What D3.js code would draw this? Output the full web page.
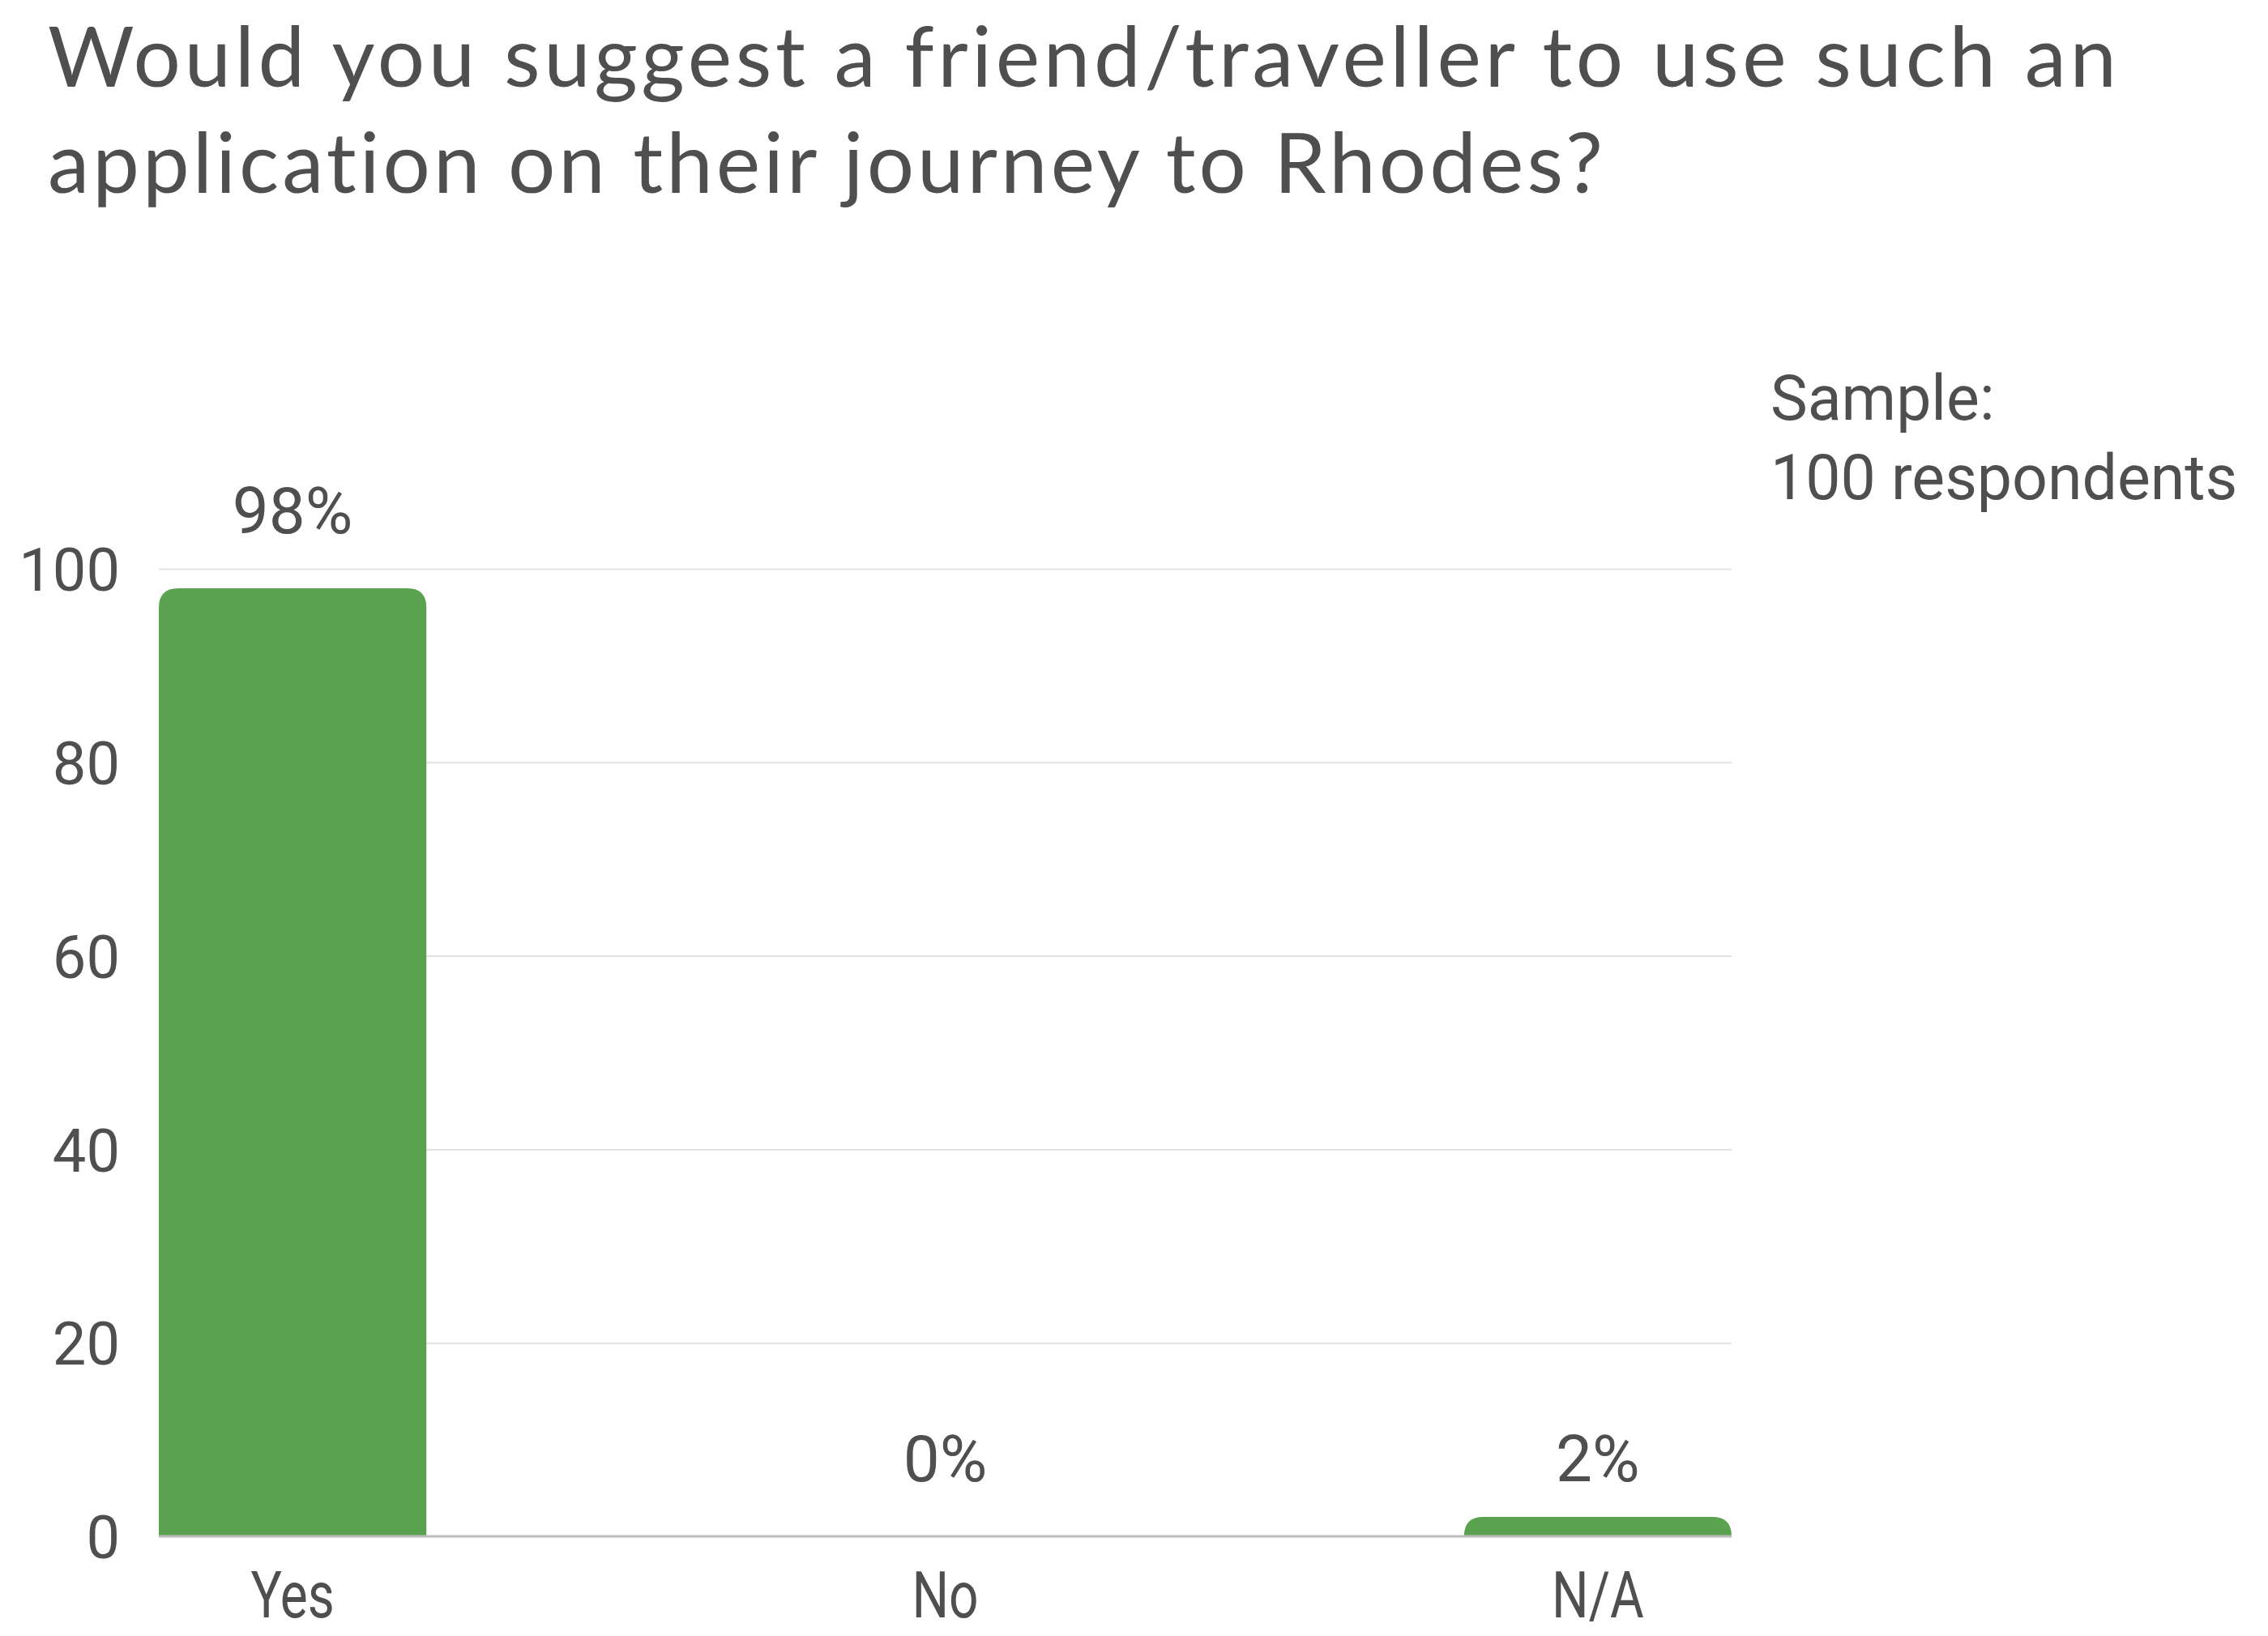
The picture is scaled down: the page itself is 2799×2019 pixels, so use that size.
<!DOCTYPE html>
<html>
<head>
<meta charset="utf-8">
<script src="https://cdn.jsdelivr.net/npm/d3@7"></script>
<style>
  body { margin: 0; background: #fff; }
  svg { display: block; }
  text { font-variant-ligatures: none; font-feature-settings: "liga" 0; }
</style>
</head>
<body>
<div id="chart"></div>
<script>
var titleLines = [
  "Would you suggest a friend/traveller to use such an",
  "application on their journey to Rhodes?"
];
var sampleLines = ["Sample:", "100 respondents"];
var categories = ["Yes", "No", "N/A"];
var values = [98, 0, 2];
var valueLabels = ["98%", "0%", "2%"];
var yTicks = [0, 20, 40, 60, 80, 100];

var width = 2799, height = 2019;
var textColor = "#4f4f4f";
var barColor = "#5aa150";

var margin = { top: 702, right: 662, bottom: 123, left: 196 };
var innerW = width - margin.left - margin.right;
var innerH = height - margin.top - margin.bottom;

var svg = d3.select("#chart").append("svg")
  .attr("width", width)
  .attr("height", height);

// title, two lines
var titleLen = [2553, 1919];
svg.append("g").selectAll("text")
  .data(titleLines)
  .enter().append("text")
  .attr("x", 59)
  .attr("y", function(d, i) { return 107 + i * 131; })
  .attr("textLength", function(d, i) { return titleLen[i]; })
  .attr("lengthAdjust", "spacing")
  .attr("font-family", "Lato, 'Open Sans', sans-serif")
  .attr("font-size", 103)
  .attr("fill", textColor)
  .text(function(d) { return d; });

// sample note
svg.append("g").selectAll("text")
  .data(sampleLines)
  .enter().append("text")
  .attr("x", 2185)
  .attr("y", function(d, i) { return 518 + i * 98; })
  .attr("font-family", "Roboto, sans-serif")
  .attr("font-size", 77)
  .attr("fill", textColor)
  .text(function(d) { return d; });

var g = svg.append("g")
  .attr("transform", "translate(" + margin.left + "," + margin.top + ")");

var x = d3.scaleBand()
  .domain(categories)
  .range([0, innerW])
  .paddingInner(0.59)
  .paddingOuter(0);

var y = d3.scaleLinear()
  .domain([0, 100])
  .range([innerH, 0]);

// y axis + gridlines
var yAxis = g.append("g")
  .call(d3.axisLeft(y).tickValues(yTicks).tickSize(-innerW).tickPadding(48));
yAxis.select(".domain").remove();
yAxis.selectAll(".tick line")
  .attr("stroke", "#e3e3e3")
  .attr("stroke-width", 2);
yAxis.selectAll(".tick text")
  .attr("font-family", "Roboto, sans-serif")
  .attr("font-size", 74)
  .attr("fill", textColor)
  .attr("dy", "0.36em");

var data = categories.map(function(c, i) {
  return { cat: c, value: values[i], label: valueLabels[i] };
});

function topRounded(x0, y0, w, h, r) {
  if (h <= 0) return "";
  r = Math.min(r, h, w / 2);
  return "M" + x0 + "," + (y0 + h) +
    "V" + (y0 + r) +
    "Q" + x0 + "," + y0 + " " + (x0 + r) + "," + y0 +
    "H" + (x0 + w - r) +
    "Q" + (x0 + w) + "," + y0 + " " + (x0 + w) + "," + (y0 + r) +
    "V" + (y0 + h) + "Z";
}

g.append("g").selectAll("path")
  .data(data)
  .enter().append("path")
  .attr("d", function(d) {
    return topRounded(x(d.cat), y(d.value), x.bandwidth(), innerH - y(d.value), 24);
  })
  .attr("fill", barColor);

// baseline
g.append("line")
  .attr("x1", 0).attr("x2", innerW)
  .attr("y1", innerH).attr("y2", innerH)
  .attr("stroke", "#bdbdbd")
  .attr("stroke-width", 3);

// value labels
g.append("g").selectAll("text")
  .data(data)
  .enter().append("text")
  .attr("x", function(d) { return x(d.cat) + x.bandwidth() / 2; })
  .attr("y", function(d) {
    var top = (innerH - y(d.value) > 40) ? y(d.value) : innerH;
    return top - 68;
  })
  .attr("text-anchor", "middle")
  .attr("font-family", "Roboto, sans-serif")
  .attr("font-size", 80)
  .attr("fill", textColor)
  .text(function(d) { return d.label; });

// category axis
var xAxis = g.append("g")
  .attr("transform", "translate(0," + innerH + ")")
  .call(d3.axisBottom(x).tickSize(0));
xAxis.select(".domain").remove();
xAxis.selectAll(".tick text")
  .attr("y", 100)
  .attr("dy", 0)
  .attr("font-family", "Roboto, sans-serif")
  .attr("font-size", 80)
  .attr("fill", textColor)
  .attr("transform", "scale(0.8,1)");
</script>
</body>
</html>
